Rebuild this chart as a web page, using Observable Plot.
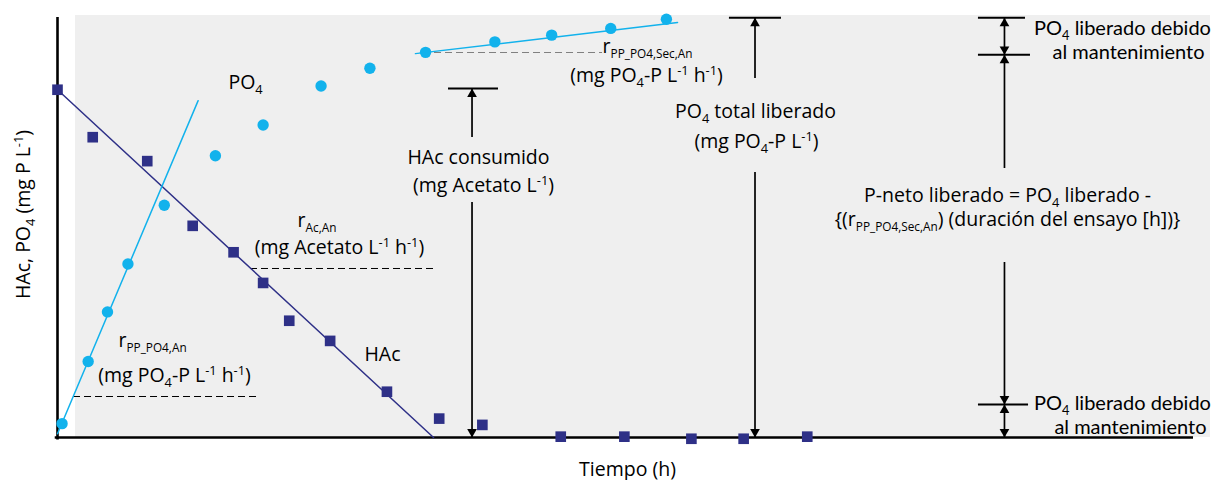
<!DOCTYPE html>
<html>
<head>
<meta charset="utf-8">
<script src="https://cdn.jsdelivr.net/npm/d3@7"></script>
<script src="https://cdn.jsdelivr.net/npm/@observablehq/plot@0.6"></script>
<style>
  html, body { margin: 0; padding: 0; background: #fff; }
  #chart svg { display: block; }
</style>
</head>
<body>
<div id="chart"></div>
<script>
// ---- Measured series (time in h, concentration in mg/L, schematic scale) ----
const hacTime = [0, 0.31, 0.79, 1.19, 1.55, 1.81, 2.04, 2.40, 2.90, 3.36, 3.74, 4.43, 4.99, 5.58, 6.04, 6.60];
const hacConc = [82.8, 71.5, 65.8, 50.4, 44.1, 36.8, 27.8, 23.0, 10.9, 4.5, 3.0, 0.2, 0.2, -0.3, -0.3, 0.2];
const po4Time = [0.04, 0.27, 0.44, 0.62, 0.94, 1.39, 1.81, 2.32, 2.75, 3.24, 3.85, 4.35, 4.87, 5.36];
const po4Conc = [3.3, 18.1, 29.9, 41.3, 55.3, 67.1, 74.4, 83.7, 87.9, 91.7, 94.2, 95.8, 97.4, 99.6];

// ---- Rate lines (start / end of each fitted segment) ----
const hacRateTime = [0, 3.31];
const hacRateConc = [82.8, 0];
const po4RateTime = [0, 1.238];
const po4RateConc = [0.9, 80.2];
const po4SecRateTime = [3.151, 5.458];
const po4SecRateConc = [91.4, 98.8];

// ---- Dashed reference levels under each rate label ----
const rateGuideFrom = [0.141, 1.699];
const rateGuideTo = [1.769, 3.345];
const rateGuideLevel = [9.76, 40.24];
const secGuideFrom = [3.222];
const secGuideTo = [4.798];
const secGuideLevel = [91.67];

// ---- Measurement brackets: horizontal bars and arrow shafts ----
const barTime1 = [3.442, 5.915, 8.107, 8.107, 8.107];
const barTime2 = [3.882, 6.373, 8.521, 8.565, 8.548];
const barLevel = [83.10, 99.93, 99.93, 91.12, 7.86];

const shaftTime = [3.649, 3.649, 6.140, 6.140, 8.336, 8.336, 8.336, 8.336];
const shaftFrom = [71.43, 55.95, 85.48, 63.10, 91.12, 64.05, 41.67, 0];
const shaftTo   = [83.10, 0, 99.93, 0, 99.93, 91.12, 7.86, 7.86];
// arrow tips: up-pointing and down-pointing heads
const tipUpTime = [3.649, 6.140, 8.336, 8.336, 8.336];
const tipUpLevel = [83.10, 99.93, 99.93, 91.12, 7.86];
const tipDownTime = [3.649, 6.140, 8.336, 8.336, 8.336];
const tipDownLevel = [0, 0, 91.12, 7.86, 0];

// ---- Shaded panel extents ----
const panelX = [0.158, 10.15];
const panelY = [0, 100.48];

// ---- Labels (x = h, y = mg/L); _{..} subscript, ^{..} superscript ----
const leftLabels = [
  {x: 1.505, y: 84.52, text: "PO_{4}"},
  {x: 2.113, y: 51.67, text: "r_{Ac,An}"},
  {x: 2.702, y: 19.76, text: "HAc"},
  {x: 0.537, y: 23.10, text: "r_{PP_PO4,An}"},
  {x: 4.798, y: 92.98, text: "r_{PP_PO4,Sec,An}"}
];
const centerLabels = [
  {x: 2.482, y: 45.24, text: "(mg Acetato L^{-1} h^{-1})"},
  {x: 1.030, y: 14.76, text: "(mg PO_{4}-P L^{-1} h^{-1})"},
  {x: 5.185, y: 86.19, text: "(mg PO_{4}-P L^{-1} h^{-1})"},
  {x: 3.706, y: 66.67, text: "HAc consumido"},
  {x: 3.750, y: 60.00, text: "(mg Acetato L^{-1})"},
  {x: 6.144, y: 77.50, text: "PO_{4} total liberado"},
  {x: 6.153, y: 70.36, text: "(mg PO_{4}-P L^{-1})"},
  {x: 8.363, y: 57.62, text: "P-neto liberado = PO_{4} liberado -"},
  {x: 8.363, y: 51.90, text: "{(r_{PP_PO4,Sec,An}) (duración del ensayo [h])}"}
];
const maintenanceLabels = [
  {x: 9.375, y: 97.31, text: "PO_{4} liberado debido"},
  {x: 9.428, y: 91.74, text: "al mantenimiento"},
  {x: 9.375, y: 8.02, text: "PO_{4} liberado debido"},
  {x: 9.445, y: 2.45, text: "al mantenimiento"}
];
const xTitle = [{x: 5.018, y: -7.62, text: "Tiempo (h)"}];
const yTitle = [{x: -0.297, y: 53.1, text: "HAc, PO_{4} (mg P L^{-1})"}];

// ---- Build tables for the marks ----
const hac = hacTime.map((t, i) => ({t, c: hacConc[i]}));
const po4 = po4Time.map((t, i) => ({t, c: po4Conc[i]}));
const hacRate = hacRateTime.map((t, i) => ({t, c: hacRateConc[i]}));
const po4Rate = po4RateTime.map((t, i) => ({t, c: po4RateConc[i]}));
const po4SecRate = po4SecRateTime.map((t, i) => ({t, c: po4SecRateConc[i]}));
const rateGuides = rateGuideFrom.map((a, i) => ({a, b: rateGuideTo[i], c: rateGuideLevel[i]}));
const secGuides = secGuideFrom.map((a, i) => ({a, b: secGuideTo[i], c: secGuideLevel[i]}));
const bars = barTime1.map((a, i) => ({a, b: barTime2[i], c: barLevel[i]}));
const shafts = shaftTime.map((t, i) => ({t, a: shaftFrom[i], b: shaftTo[i]}));
const tipsUp = tipUpTime.map((t, i) => ({t, c: tipUpLevel[i]}));
const tipsDown = tipDownTime.map((t, i) => ({t, c: tipDownLevel[i]}));

const NAVY = "#2e3087";
const CYAN = "#12b2ec";
const FONT = "'Open Sans', 'DejaVu Sans', sans-serif";
const FONT_NOTE = "Lato, 'Open Sans', sans-serif";
const FS = 19.5;
const TIP_R = 3.6;
// distance from a triangle symbol's centroid to its apex
const TIP_OFFSET = 2 * Math.sqrt((Math.PI * TIP_R * TIP_R) / (3 * Math.sqrt(3)));

const textOpts = {x: "x", y: "y", text: "text", fontSize: FS, fontFamily: FONT, fill: "#000"};

const chart = Plot.plot({
  width: 1211,
  height: 480,
  marginLeft: 57,
  marginRight: 18,
  marginTop: 17,
  marginBottom: 43,
  x: {domain: [0, 10], axis: null},
  y: {domain: [0, 100], axis: null},
  style: {fontFamily: FONT, fontSize: FS + "px", background: "#fff", overflow: "visible"},
  marks: [
    // shaded background panel
    Plot.rect([{}], {x1: () => panelX[0], x2: () => panelX[1], y1: () => panelY[0], y2: () => panelY[1], fill: "#efefef"}),
    // dashed reference levels
    Plot.ruleY(rateGuides, {x1: "a", x2: "b", y: "c", stroke: "#000", strokeWidth: 1, strokeDasharray: "7,4"}),
    Plot.ruleY(secGuides, {x1: "a", x2: "b", y: "c", stroke: "#808080", strokeWidth: 1.2, strokeDasharray: "7,4"}),
    // axes
    Plot.ruleX([0], {y1: -0.6, y2: 100, stroke: "#000", strokeWidth: 2.6}),
    Plot.ruleY([0], {x1: -0.02, x2: 10, stroke: "#000", strokeWidth: 2.6}),
    // fitted rate lines
    Plot.line(hacRate, {x: "t", y: "c", stroke: NAVY, strokeWidth: 1.5}),
    Plot.line(po4Rate, {x: "t", y: "c", stroke: CYAN, strokeWidth: 1.5}),
    Plot.line(po4SecRate, {x: "t", y: "c", stroke: CYAN, strokeWidth: 1.5}),
    // measurements
    Plot.dot(hac, {x: "t", y: "c", symbol: "square", r: 6, fill: NAVY}),
    Plot.dot(po4, {x: "t", y: "c", symbol: "circle", r: 5.7, fill: CYAN}),
    // brackets
    Plot.ruleY(bars, {x1: "a", x2: "b", y: "c", stroke: "#000", strokeWidth: 2}),
    Plot.ruleX(shafts, {x: "t", y1: "a", y2: "b", stroke: "#000", strokeWidth: 1.7}),
    Plot.dot(tipsUp, {x: "t", y: "c", symbol: "triangle", r: TIP_R, fill: "#000", dy: TIP_OFFSET}),
    Plot.dot(tipsDown, {x: "t", y: "c", symbol: "triangle", r: TIP_R, fill: "#000", rotate: 180, dy: -TIP_OFFSET}),
    // labels
    Plot.text(leftLabels, {...textOpts, textAnchor: "start"}),
    Plot.text(centerLabels, {...textOpts, textAnchor: "middle"}),
    Plot.text(maintenanceLabels, {...textOpts, fontFamily: FONT_NOTE, fontSize: 20, textAnchor: "middle"}),
    Plot.text(xTitle, {...textOpts, textAnchor: "middle"}),
    Plot.text(yTitle, {...textOpts, textAnchor: "middle", rotate: -90})
  ]
});

// Turn _{..} and ^{..} into lowered / raised tspans
function applyScripts(svg) {
  const SUB = 5, SUP = -7;
  const re = /([_^])\{([^}]*)\}/g;
  for (const el of svg.querySelectorAll("text")) {
    const s = el.textContent;
    if (!/[_^]\{/.test(s)) continue;
    const parts = [];
    let last = 0, m;
    re.lastIndex = 0;
    while ((m = re.exec(s))) {
      if (m.index > last) parts.push({t: s.slice(last, m.index), k: ""});
      parts.push({t: m[2], k: m[1]});
      last = re.lastIndex;
    }
    if (last < s.length) parts.push({t: s.slice(last), k: ""});
    el.textContent = "";
    let shift = 0;
    for (const p of parts) {
      const ts = document.createElementNS("http://www.w3.org/2000/svg", "tspan");
      const target = p.k === "_" ? SUB : p.k === "^" ? SUP : 0;
      if (target !== shift) ts.setAttribute("dy", target - shift);
      // single-character scripts slightly larger than long subscript names
      if (p.k) ts.setAttribute("font-size", p.t.length > 2 ? 11.8 : 12.8);
      ts.textContent = p.t;
      el.appendChild(ts);
      shift = target;
    }
  }
}
applyScripts(chart);
document.getElementById("chart").appendChild(chart);
</script>
</body>
</html>
